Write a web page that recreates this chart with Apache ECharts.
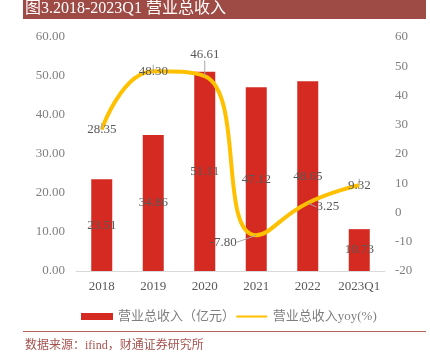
<!DOCTYPE html>
<html><head><meta charset="utf-8">
<script src="https://cdn.jsdelivr.net/npm/echarts@6/dist/echarts.min.js"></script>
<style>html,body{margin:0;padding:0;background:#fff}#c{width:430px;height:357px}</style>
</head><body><div id="c"></div>
<script>
const categories = ['2018','2019','2020','2021','2022','2023Q1'];
const revenue = [23.51, 34.86, 51.11, 47.12, 48.65, 10.73];
const yoy = [28.35, 48.30, 46.61, -7.80, 3.25, 9.32];
const leftTicks = [0, 60, 10];
const rightTicks = [-20, 60, 10];
const FONT = '"Liberation Serif","Times New Roman","Noto Sans CJK SC",serif';
const chart = echarts.init(document.getElementById('c'));
const labelShift = {2:{dx:0,dy:-22}, 3:{dx:-33,dy:7}, 4:{dx:20,dy:4}};
chart.setOption({
  animation:false,
  textStyle:{fontFamily:FONT},
  graphic:[
    {type:'rect',left:23,top:0,shape:{width:403,height:19},style:{fill:'#9e4b46'}},
    {type:'text',left:25,top:1,style:{text:'图3.2018-2023Q1 营业总收入',fill:'#fff',font:'16px '+FONT}},
    {type:'rect',left:23,top:331,shape:{width:403,height:1},style:{fill:'#b5605b'}},
    {type:'text',left:25,top:340,style:{text:'数据来源：ifind，财通证券研究所',fill:'#a6534f',font:'12px '+FONT}}
  ],
  grid:{left:76,right:45,top:37,bottom:86},
  legend:{left:76,top:305,itemWidth:32,itemHeight:7,itemGap:1,
    textStyle:{color:'#7f7f7f',fontSize:13,fontFamily:FONT},
    data:[{name:'营业总收入（亿元）',icon:'rect'},
          {name:'营业总收入yoy(%)',icon:'path://M0,0 L0.01,0 L0.01,0.01 Z M0,2.5 L30,2.5 Q31.5,3.5 30,4.5 L0,4.5 Q-1.5,3.5 0,2.5 Z M0,6.99 L0.01,6.99 L0.01,7 Z'}]},
  xAxis:{type:'category',data:categories,
    axisLine:{lineStyle:{color:'#d9d9d9'}},axisTick:{show:false},
    axisLabel:{color:'#595959',fontSize:13,margin:9,interval:0,fontFamily:FONT}},
  yAxis:[
    {type:'value',min:leftTicks[0],max:leftTicks[1],interval:leftTicks[2],
     splitLine:{show:false},axisLine:{show:false},axisTick:{show:false},
     axisLabel:{color:'#7f7f7f',fontSize:13,margin:11,fontFamily:FONT,formatter:v=>v.toFixed(2)}},
    {type:'value',min:rightTicks[0],max:rightTicks[1],interval:rightTicks[2],
     splitLine:{show:false},axisLine:{show:false},axisTick:{show:false},
     axisLabel:{color:'#7f7f7f',fontSize:13,margin:10,fontFamily:FONT}}
  ],
  series:[
    {name:'营业总收入（亿元）',type:'bar',data:revenue,barWidth:21,
     itemStyle:{color:'#d42a22'},
     label:{show:true,position:'inside',color:'#595959',fontSize:13,fontFamily:FONT,formatter:p=>p.value.toFixed(2)}},
    {name:'营业总收入yoy(%)',type:'line',yAxisIndex:1,data:yoy,smooth:0.5,
     symbol:'circle',symbolSize:0.1,showSymbol:true,
     lineStyle:{color:'#ffc000',width:4},itemStyle:{color:'#ffc000'},z:3,
     label:{show:true,position:'inside',color:'#595959',fontSize:13,fontFamily:FONT,formatter:p=>p.value.toFixed(2)},
     labelLine:{show:true,lineStyle:{color:'#a6a6a6',width:1}},
     labelLayout:p=>labelShift[p.dataIndex]||{}}
  ]
});
</script></body></html>
